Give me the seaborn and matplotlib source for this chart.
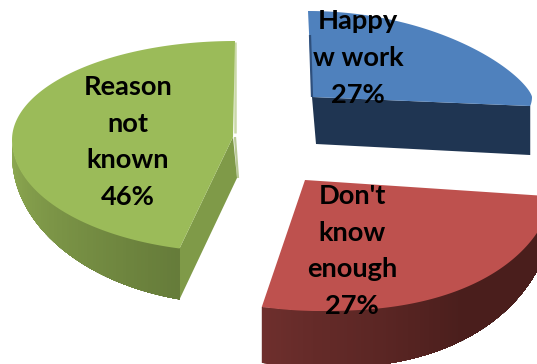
import numpy as np
import matplotlib
matplotlib.use("Agg")
import matplotlib.pyplot as plt
from matplotlib.patches import Polygon
import seaborn as sns

# Survey shares, clockwise from twelve o'clock
categories = ["Happy\nw work", "Don't\nknow\nenough", "Reason\nnot\nknown"]
shares = [27, 27, 46]
top_colors = ["#4F81BD", "#BE514E", "#9BBB59"]
wall_shades = [["#1F3552"], ["#6E2F2D", "#4A1E1C", "#4A1E1C"], ["#8FAB52", "#667C3A"]]
side_colors = ["#1F3552", "#4A1E1C", "#7F9A48"]

# Pixel layout of each exploded slice in the tilted view
layouts = [
    dict(apex=(312, 97), centre=(308, 97), rx=224, back=86, front=72, back_pow=1.45, right_pow=1.0,
         depth=(49, 0), apex_drop=(4, 47), label=(358, 58)),
    dict(apex=(305, 180), centre=(320, 180), rx=234, back=86, front=131, back_pow=1.0, right_pow=0.85,
         depth=(25, 32), apex_drop=(4, 47), label=(352, 251)),
    dict(apex=(233, 137), centre=(235, 140), rx=223, back=99, front=112, back_pow=1.0, right_pow=1.0,
         depth=(15, 37), apex_drop=(4, 41), label=(128, 142)),
]

sns.set_theme(style="white")
plt.rcParams["font.family"] = ["Lato", "DejaVu Sans"]

fig = plt.figure(figsize=(5.37, 3.64), dpi=100)
ax = fig.add_axes([0, 0, 1, 1])
ax.set_xlim(0, 537)
ax.set_ylim(364, 0)
ax.axis("off")


def rim(theta, geo):
    """Screen position of the slice rim at clockwise angle theta (radians)."""
    c = np.cos(theta)
    s = np.sin(theta)
    lift = np.where(c >= 0, geo["back"] * np.abs(c) ** geo["back_pow"], geo["front"] * c)
    reach = np.where(s >= 0, np.abs(s) ** geo["right_pow"], s)
    return geo["centre"][0] + geo["rx"] * reach, geo["centre"][1] - lift


def wall_drop(theta, geo):
    base, extra = geo["depth"]
    return base + extra * np.abs(np.minimum(np.cos(theta), 0))


edges = np.radians(np.concatenate([[0], np.cumsum(shares)]) * 3.6)

for i, geo in enumerate(layouts):
    start, stop = edges[i], edges[i + 1]
    theta = np.linspace(start, stop, 160)
    x, y = rim(theta, geo)
    apex = np.array(geo["apex"], dtype=float)
    apex_low = apex + geo["apex_drop"]

    # Radial cut faces seen from the front
    if i == 0:
        ex, ey = x[-1], y[-1]
        face = [apex, (ex, ey), (ex, ey + wall_drop(stop, geo)), apex_low]
        ax.add_patch(Polygon(face, fc=side_colors[i], ec="none", zorder=2))
    if i == 2:
        ex, ey = x[0], y[0]
        face = [apex, (ex, ey), (ex, ey + wall_drop(start, geo)), apex_low]
        ax.add_patch(Polygon(face, fc=side_colors[i], ec="none", zorder=2))

    # Outer wall: each shaded strip runs to the far end, so later strips paint over earlier ones
    front = theta[np.cos(theta) <= 0.02][::-1]
    if front.size > 1 and i != 0:
        shades = sns.blend_palette(wall_shades[i], front.size - 1)
        fx, fy = rim(front, geo)
        low = fy + wall_drop(front, geo)
        for j in range(front.size - 1):
            top_run = np.column_stack([fx[j:], fy[j:]])
            low_run = np.column_stack([fx[j:], low[j:]])[::-1]
            ax.add_patch(Polygon(np.vstack([top_run, low_run]), fc=shades[j], ec="none", zorder=3))

    # Top surface
    outline = np.vstack([apex, np.column_stack([x, y])])
    ax.add_patch(Polygon(outline, fc=top_colors[i], ec="none", zorder=4))

# Thin lit and shaded slivers along the twelve o'clock cuts
ax.plot([235, 235], [42, 133], color="#CBD9A9", lw=1.8, zorder=3, solid_capstyle="butt")
ax.plot([235, 238], [137, 178], color="#B9C997", lw=1.6, zorder=1, solid_capstyle="butt")
ax.plot([310, 312], [35, 97], color="#2E4F7C", lw=1.6, zorder=5, solid_capstyle="butt")

for name, share, geo in zip(categories, shares, layouts):
    ax.text(*geo["label"], f"{name}\n{share}%", ha="center", va="center",
            fontsize=19.6, fontweight="bold", color="black", linespacing=1.63, zorder=6)

fig.savefig("out.png", dpi=100, facecolor="white")
